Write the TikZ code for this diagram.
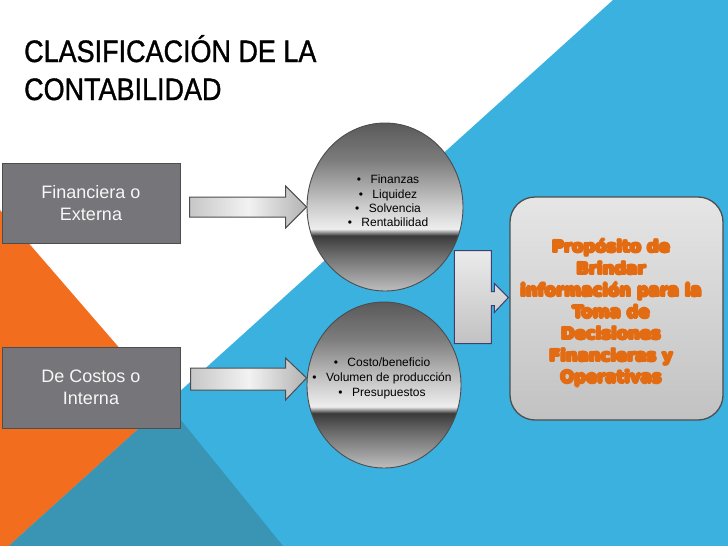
\documentclass[tikz,border=0pt]{standalone}
\usepackage{fontspec}
\setmainfont{Liberation Sans}
\newfontfamily\goalfont{DejaVu Sans}
\newfontfamily\titlefont{Liberation Sans}[FakeBold=1.2]
\usetikzlibrary{shapes.geometric,calc}

\definecolor{skyblue}{HTML}{3BB1DF}
\definecolor{deepteal}{HTML}{3A94B4}
\definecolor{slideorange}{HTML}{F36D1F}
\definecolor{boxgray}{HTML}{75757A}
\definecolor{edgegray}{HTML}{4D4D4D}
\definecolor{goalorange}{HTML}{E36C12}
\definecolor{metalA}{HTML}{5A5A5A}
\definecolor{metalB}{HTML}{7C7C7C}
\definecolor{metalC}{HTML}{C8C8C8}
\definecolor{metalD}{HTML}{EEEEEE}
\definecolor{metalE}{HTML}{3A3A3A}
\definecolor{metalF}{HTML}{6A6A6A}
\definecolor{metalG}{HTML}{BEBEBE}

% metallic look of the two ellipses (25bp = bottom, 75bp = top)
\pgfdeclareverticalshading{metal}{100bp}{color(0bp)=(metalG); color(25bp)=(metalG);
  color(36bp)=(metalF); color(41.5bp)=(metalE); color(43.5bp)=(metalD);
  color(51bp)=(metalC); color(64bp)=(metalB); color(75bp)=(metalA); color(100bp)=(metalA)}

\newsavebox{\halobox}
\newcommand{\halo}[1]{\sbox{\halobox}{#1}%
  \foreach \hx/\hy in {1.2/0,-1.2/0,0/1.2,0/-1.2,0.85/0.85,-0.85/0.85,0.85/-0.85,-0.85/-0.85}{%
    \rlap{\kern\hx pt\raisebox{\hy pt}{\textcolor{white!92!gray}{\usebox{\halobox}}}}}%
  \usebox{\halobox}}

\begin{document}
\begin{tikzpicture}[x=1pt,y=-1pt,
  titletext/.style={font=\titlefont\fontsize{31}{36}\selectfont, xscale=0.87, inner sep=0},
  inbox/.style={draw=edgegray, line width=0.8pt, fill=boxgray, text=white!94!gray,
    minimum width=178pt, minimum height=80pt, align=center, font=\fontsize{18}{21.5}\selectfont},
  metalball/.style={ellipse, draw=edgegray, line width=0.9pt, shading=metal, inner sep=0},
  listtext/.style={align=center, font=\fontsize{12}{14.4}\selectfont, inner sep=0},
  blockarrow/.style={draw=edgegray, line width=1pt, left color=black!22, right color=black!30, middle color=black!5},
  bentarrow/.style={draw=edgegray!80!blue, line width=1pt, top color=black!8, bottom color=black!24},
  goalbox/.style={draw=edgegray, line width=1.3pt, rounded corners=25pt, top color=black!10, bottom color=black!24,
    minimum width=213pt, minimum height=223pt},
  goaltext/.style={align=center, text=goalorange, font=\goalfont\bfseries\fontsize{16.5}{21.7}\selectfont}]

\useasboundingbox (0,0) rectangle (728,546);
\fill[white] (0,0) rectangle (728,546);

% background slices
\fill[skyblue] (613,0) -- (728,0) -- (728,546) -- (8.7,546) -- cycle;
\fill[slideorange] (0,210) -- (167,403) -- (8.7,546) -- (0,546) -- cycle;
\fill[deepteal] (167,403) -- (283,546) -- (8.7,546) -- cycle;

\node[titletext, anchor=base west] (title) at (24,62) {CLASIFICACIÓN DE LA};
\node[titletext, anchor=base west] (title2) at (24,100) {CONTABILIDAD};

\node[inbox] (fin) at (91,203) {Financiera o\\Externa};
\node[inbox, minimum height=81pt] (cost) at (91,387.5) {De Costos o\\Interna};

\node[metalball, minimum width=156pt, minimum height=168pt] (cfin) at (385,207) {};
\node[metalball, minimum width=154pt, minimum height=166pt] (ccost) at (384,385) {};
\node[listtext] (finlist) at (388,201) {•\hspace{9.5pt}Finanzas\\•\hspace{9.5pt}Liquidez\\•\hspace{9.5pt}Solvencia\\•\hspace{9.5pt}Rentabilidad};
\node[listtext, font=\fontsize{12}{15}\selectfont] (costlist) at (382,378) {•\hspace{9.5pt}Costo/beneficio\\•\hspace{9.5pt}Volumen de producción\\•\hspace{9.5pt}Presupuestos};

\node[goalbox] (goal) at (616.5,308.5) {};
\node[goaltext] (goalmsg) at (611,313) {\halo{Propósito de}\\\halo{Brindar}\\\halo{información para la}\\\halo{Toma de}\\\halo{Decisiones}\\\halo{Financieras y}\\\halo{Operativas}};

% block arrows
\draw[blockarrow] (cfin.west) -- ++(-21,-21) -- ++(0,11) -- ++(-96,0) -- ++(0,20) -- ++(96,0) -- ++(0,11) -- cycle;
\draw[blockarrow] ($(ccost.west)+(0,-7)$) -- ++(-21,-20) -- ++(0,10) -- ++(-95,0) -- ++(0,22) -- ++(95,0) -- ++(0,10) -- cycle;
\draw[bentarrow] ($(goal.west)+(-1,-11)$) -- ++(-14,-14) -- ++(0,8) -- ++(-3,0) -- ++(0,-41) -- ++(-37,0)
  -- ++(0,93) -- ++(37,0) -- ++(0,-38) -- ++(3,0) -- ++(0,7) -- cycle;

\end{tikzpicture}
\end{document}
